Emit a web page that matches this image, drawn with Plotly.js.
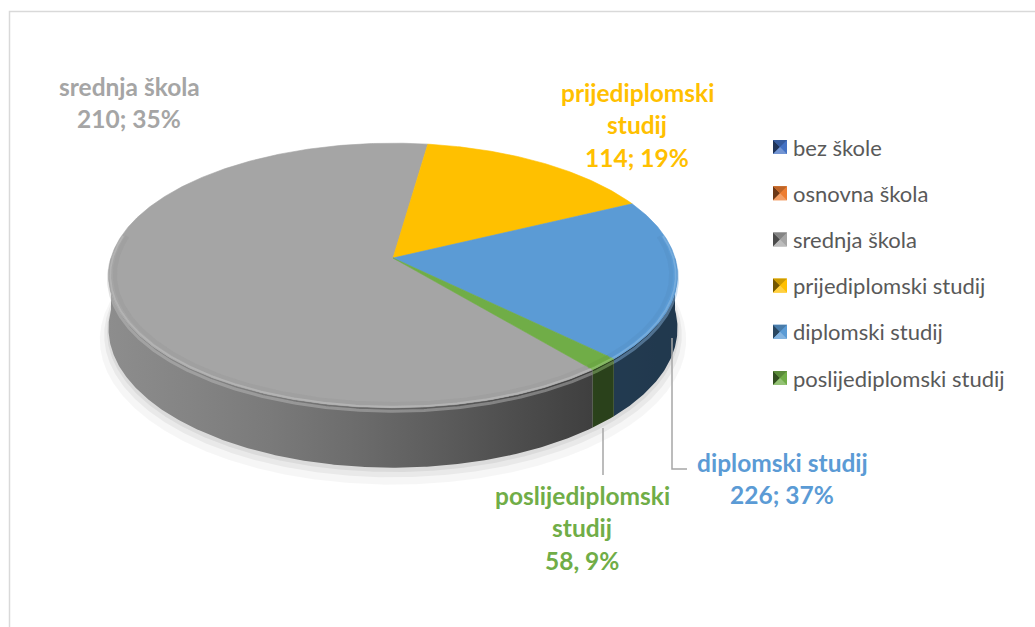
<!DOCTYPE html>
<html>
<head>
<meta charset="utf-8">
<script src="https://cdn.plot.ly/plotly-3.0.1.min.js"></script>
<style>html,body{margin:0;padding:0;background:#fff;}#chart{width:1035px;height:627px;}</style>
</head>
<body>
<div id="chart"></div>
<script>
// ---- data ----
const categories = ['bez škole', 'osnovna škola', 'srednja škola', 'prijediplomski studij', 'diplomski studij', 'poslijediplomski studij'];
// slice shares as drawn in the picture (percent of the full circle)
const sliceShares = [0, 0, 63.2, 15.5, 19.7, 1.6];
// numbers written in the data labels
const labelCounts = [null, null, 210, 114, 226, 58];
const labelPercents = [null, null, 35, 19, 37, 9];
const labelSeparators = ['; ', '; ', '; ', '; ', '; ', ', '];
const labelNameLines = [[], [], ['srednja škola'], ['prijediplomski', 'studij'], ['diplomski studij'], ['poslijediplomski', 'studij']];
const sliceColors = ['#4472C4', '#ED7D31', '#A5A5A5', '#FFC000', '#5B9BD5', '#70AD47'];

// ---- geometry (layout constants, pixel space) ----
const W = 1035, Hh = 627;
const cx = 393, cy = 258, F = 282, G = 130, K = 0.132, THICK = 52;
const startAngle = 140.5; // degrees clockwise from the far (top) point

function proj(thDeg, drop, scale) {
  scale = scale === undefined ? 1 : scale;
  const t = thDeg * Math.PI / 180;
  const u = scale * Math.sin(t), v = -scale * Math.cos(t);
  const s = 1 / (1 - K * v);
  return [cx + F * u * s, cy + (G * v + drop) * s];
}
function hexToRgb(h) { h = h.replace('#', ''); return [parseInt(h.substr(0, 2), 16), parseInt(h.substr(2, 2), 16), parseInt(h.substr(4, 2), 16)]; }
function shade(h, f) { const c = hexToRgb(h); return 'rgb(' + c.map(v => Math.max(0, Math.min(255, Math.round(v * f)))).join(',') + ')'; }
function tint(h, f) { const c = hexToRgb(h); return 'rgb(' + c.map(v => Math.round(v + (255 - v) * f)).join(',') + ')'; }
function sideFactor(x) {
  const pts = [[100, 0.86], [300, 0.72], [450, 0.55], [590, 0.38], [700, 0.36]];
  if (x <= pts[0][0]) return pts[0][1];
  for (let i = 1; i < pts.length; i++) {
    if (x <= pts[i][0]) { const a = pts[i - 1], b = pts[i]; return a[1] + (b[1] - a[1]) * (x - a[0]) / (b[0] - a[0]); }
  }
  return pts[pts.length - 1][1];
}

// slice angle ranges
const total = sliceShares.reduce((a, b) => a + b, 0);
const ranges = [];
let acc = startAngle;
sliceShares.forEach((v, i) => { const d = v / total * 360; ranges.push([acc, acc + d]); acc += d; });

const traces = [];
function arcPts(a1, a2, drop, scale) {
  const pts = []; const n = Math.max(2, Math.ceil(Math.abs(a2 - a1) / 0.5));
  for (let j = 0; j <= n; j++) pts.push(proj(a1 + (a2 - a1) * j / n, drop, scale));
  return pts;
}
function poly(pts, color, extra) {
  const t = { x: pts.map(p => p[0]), y: pts.map(p => p[1]), mode: 'lines', fill: 'toself', fillcolor: color,
    line: { width: 0, color: color }, hoverinfo: 'skip', showlegend: false, type: 'scatter' };
  return Object.assign(t, extra || {});
}

// soft shadow
[[10, 1.03, 'rgba(0,0,0,0.035)'], [6, 1.015, 'rgba(0,0,0,0.05)'], [3, 1.005, 'rgba(0,0,0,0.06)']].forEach(s => {
  traces.push(poly(arcPts(0, 360, THICK + s[0], s[1]), s[2]));
});

// side walls (near half only: 90..270)
ranges.forEach((r, i) => {
  if (sliceShares[i] <= 0) return;
  [[90, 270], [450, 630]].forEach(w => {
    const a1 = Math.max(r[0], w[0]), a2 = Math.min(r[1], w[1]);
    if (a2 - a1 <= 0.01) return;
    const top = arcPts(a1, a2, 0, 1);
    const bot = arcPts(a1, a2, THICK, 1).reverse();
    const pts = top.concat(bot); pts.push(top[0]);
    const xs = pts.map(p => p[0]);
    const x0 = Math.min(...xs), x1 = Math.max(...xs);
    const stops = [];
    for (let j = 0; j <= 6; j++) { const x = x0 + (x1 - x0) * j / 6; stops.push([j / 6, shade(sliceColors[i], sideFactor(x))]); }
    traces.push(poly(pts, shade(sliceColors[i], sideFactor((x0 + x1) / 2)), {
      fillgradient: { type: 'horizontal', colorscale: stops, start: x0, stop: x1 }
    }));
    // rounded bevel highlight on top of the wall
    const hl = arcPts(a1, a2, 3, 1);
    traces.push({ x: hl.map(p => p[0]), y: hl.map(p => p[1]), mode: 'lines', type: 'scatter',
      line: { color: tint(sliceColors[i], 0.3), width: 3 }, opacity: 0.45, hoverinfo: 'skip', showlegend: false });
  });
});

// top surfaces
ranges.forEach((r, i) => {
  if (sliceShares[i] <= 0) return;
  const pts = [proj(0, 0, 0)].concat(arcPts(r[0], r[1], 0, 1));
  pts.push(proj(0, 0, 0));
  traces.push(poly(pts, sliceColors[i], { line: { width: 0.6, color: sliceColors[i] } }));
});

// subtle bevel rim on the top surface (near edge)
ranges.forEach((r, i) => {
  if (sliceShares[i] <= 0) return;
  [[80, 280], [440, 640]].forEach(w => {
    const a1 = Math.max(r[0], w[0]), a2 = Math.min(r[1], w[1]);
    if (a2 - a1 <= 0.01) return;
    const inner = arcPts(a1, a2, 0, 0.978);
    traces.push({ x: inner.map(p => p[0]), y: inner.map(p => p[1]), mode: 'lines', type: 'scatter',
      line: { color: shade(sliceColors[i], 0.9), width: 4 }, opacity: 0.3, hoverinfo: 'skip', showlegend: false });
    const rim = arcPts(a1, a2, 0, 0.994);
    traces.push({ x: rim.map(p => p[0]), y: rim.map(p => p[1]), mode: 'lines', type: 'scatter',
      line: { color: tint(sliceColors[i], 0.3), width: 1.8 }, opacity: 0.55, hoverinfo: 'skip', showlegend: false });
  });
});

// ---- data labels ----
const labelPos = { 2: [129, 86], 3: [637, 92], 4: [782, 462], 5: [582, 495] };
const lineGap = 32.5;
const annotations = [];
categories.forEach((c, i) => {
  if (!labelPos[i]) return;
  const lines = labelNameLines[i].concat([labelCounts[i] + labelSeparators[i] + labelPercents[i] + '%']);
  lines.forEach((t, j) => {
    annotations.push({ x: labelPos[i][0], y: labelPos[i][1] + j * lineGap, xref: 'x', yref: 'y', text: '<b>' + t + '</b>',
      showarrow: false, xanchor: 'center', yanchor: 'middle',
      font: { family: 'Lato, "Open Sans", sans-serif', size: 24.5, color: sliceColors[i] } });
  });
});

// ---- legend ----
const shapes = [];
const legX = 773, legY0 = 147, legGap = 46.2, box = 14;
categories.forEach((c, i) => {
  const y = legY0 + i * legGap;
  const x0 = legX, x1 = legX + box, y0 = y - box / 2, y1 = y + box / 2, mx = (x0 + x1) / 2, my = y;
  shapes.push({ type: 'rect', xref: 'x', yref: 'y', x0: x0, x1: x1, y0: y0, y1: y1, fillcolor: sliceColors[i], line: { width: 0 } });
  shapes.push({ type: 'path', xref: 'x', yref: 'y', path: `M${x0},${y0} L${mx},${my} L${x0},${y1} Z`, fillcolor: shade(sliceColors[i], 0.45), line: { width: 0 } });
  shapes.push({ type: 'path', xref: 'x', yref: 'y', path: `M${x0},${y0} L${mx},${my} L${x1},${y0} Z`, fillcolor: shade(sliceColors[i], 0.8), line: { width: 0 } });
  shapes.push({ type: 'path', xref: 'x', yref: 'y', path: `M${x0},${y1} L${mx},${my} L${x1},${y1} Z`, fillcolor: tint(sliceColors[i], 0.25), line: { width: 0 } });
  annotations.push({ x: legX + box + 4, y: y, xref: 'x', yref: 'y', text: c, showarrow: false, xanchor: 'left', yanchor: 'middle',
    font: { family: 'Lato, "Open Sans", sans-serif', size: 22, color: '#595959' } });
});

// leader lines
shapes.push({ type: 'line', xref: 'x', yref: 'y', x0: 603, y0: 428, x1: 603, y1: 475, line: { color: '#A6A6A6', width: 1.5 } });
shapes.push({ type: 'path', xref: 'x', yref: 'y', path: 'M672,338 L672,469 L687,469', line: { color: '#A6A6A6', width: 1.5 } });
// chart border
shapes.push({ type: 'rect', xref: 'x', yref: 'y', x0: 9.5, y0: 11.5, x1: 1040, y1: 640, line: { color: '#D9D9D9', width: 1.5 }, layer: 'below' });

const layout = {
  width: W, height: Hh, margin: { l: 0, r: 0, t: 0, b: 0 },
  paper_bgcolor: '#ffffff', plot_bgcolor: '#ffffff',
  xaxis: { range: [0, W], autorange: false, visible: false, fixedrange: true },
  yaxis: { range: [Hh, 0], autorange: false, visible: false, fixedrange: true },
  showlegend: false, shapes: shapes, annotations: annotations, hovermode: false
};
Plotly.newPlot('chart', traces, layout, { staticPlot: true, displayModeBar: false });
</script>
</body>
</html>
